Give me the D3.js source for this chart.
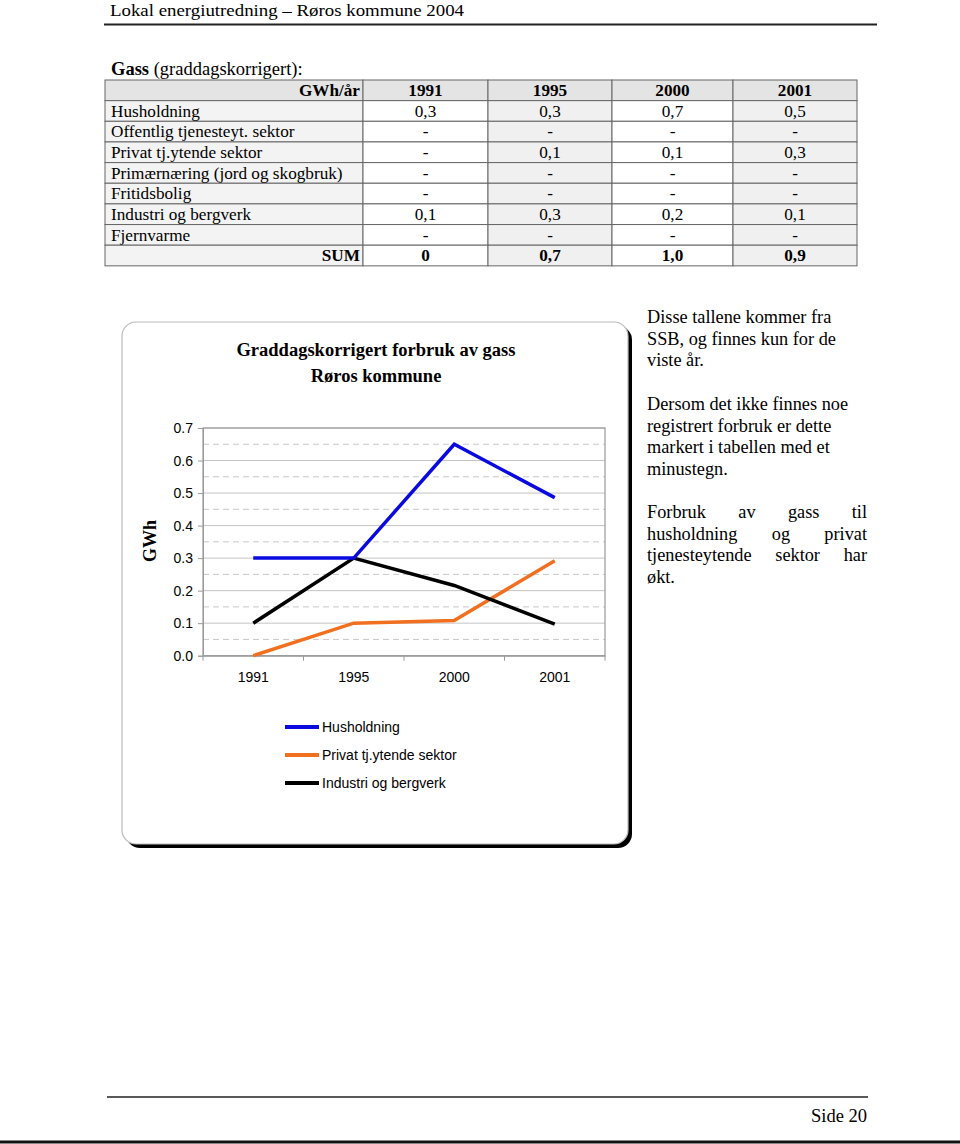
<!DOCTYPE html>
<html><head><meta charset="utf-8">
<script src="https://cdn.jsdelivr.net/npm/d3@7"></script>
<style>body{margin:0;background:#fff}svg{display:block}</style>
</head><body>
<script>
// ---------- data ----------
const years = ["1991", "1995", "2000", "2001"];
const tableRows = ["Husholdning", "Offentlig tjenesteyt. sektor", "Privat tj.ytende sektor", "Primærnæring (jord og skogbruk)", "Fritidsbolig", "Industri og bergverk", "Fjernvarme"];
const tableValues = [
  ["0,3", "0,3", "0,7", "0,5"],
  ["-", "-", "-", "-"],
  ["-", "0,1", "0,1", "0,3"],
  ["-", "-", "-", "-"],
  ["-", "-", "-", "-"],
  ["0,1", "0,3", "0,2", "0,1"],
  ["-", "-", "-", "-"]
];
const sumValues = ["0", "0,7", "1,0", "0,9"];
const seriesNames = ["Husholdning", "Privat tj.ytende sektor", "Industri og bergverk"];
const husholdning = [0.3, 0.3, 0.65, 0.486];
const privat = [0.0, 0.1, 0.108, 0.292];
const industri = [0.1, 0.3, 0.216, 0.097];
const yTicks = [0, 0.1, 0.2, 0.3, 0.4, 0.5, 0.6, 0.7];
const seriesColors = ["#0a0ae0", "#f07020", "#000000"];

const serif = "'Liberation Serif', 'Times New Roman', serif";
const sans = "'Liberation Sans', Arial, sans-serif";

const svg = d3.select("body").append("svg").attr("width", 960).attr("height", 1144);

// ---------- page header ----------
svg.append("text").attr("x", 110).attr("y", 16).attr("font-family", serif).attr("font-size", 17.5)
  .attr("textLength", 354).attr("lengthAdjust", "spacingAndGlyphs")
  .text("Lokal energiutredning – Røros kommune 2004");
svg.append("line").attr("x1", 104).attr("x2", 877).attr("y1", 24.5).attr("y2", 24.5).attr("stroke", "#222").attr("stroke-width", 2);

// ---------- table ----------
const tt = svg.append("text").attr("x", 111).attr("y", 75).attr("font-family", serif).attr("font-size", 18.5);
tt.append("tspan").attr("font-weight", "bold").text("Gass");
tt.append("tspan").text(" (graddagskorrigert):");

const colEdges = [105, 363, 488, 612, 733, 857];
const rowTop = 80, rowH = 20.65;
const allRows = [{label: "GWh/år", vals: years, header: true}]
  .concat(tableRows.map((r, i) => ({label: r, vals: tableValues[i]})))
  .concat([{label: "SUM", vals: sumValues, sum: true}]);
const colBg = ["#f3f3f3", "#ffffff", "#f0f0f0", "#ffffff", "#f0f0f0"];
const tg = svg.append("g");
allRows.forEach((row, ri) => {
  const y = rowTop + ri * rowH;
  for (let c = 0; c < 5; c++) {
    tg.append("rect").attr("x", colEdges[c]).attr("y", y).attr("width", colEdges[c + 1] - colEdges[c]).attr("height", rowH)
      .attr("fill", row.header ? "#e4e4e4" : colBg[c]).attr("stroke", "#666").attr("stroke-width", 1);
  }
  const bold = row.header || row.sum;
  tg.append("text").attr("x", (row.header || row.sum) ? colEdges[1] - 3 : colEdges[0] + 6).attr("y", y + 16)
    .attr("text-anchor", (row.header || row.sum) ? "end" : "start")
    .attr("font-family", serif).attr("font-size", 17.2).attr("font-weight", bold ? "bold" : "normal").text(row.label);
  row.vals.forEach((v, vi) => {
    tg.append("text").attr("x", (colEdges[vi + 1] + colEdges[vi + 2]) / 2).attr("y", y + 16).attr("text-anchor", "middle")
      .attr("font-family", serif).attr("font-size", 17.2).attr("font-weight", bold ? "bold" : "normal").text(v);
  });
});

// ---------- chart frame ----------
const fx = 122, fy = 322, fw = 506, fh = 522, rr = 14;
svg.append("rect").attr("x", fx + 4).attr("y", fy + 4).attr("width", fw).attr("height", fh).attr("rx", rr).attr("fill", "#000");
svg.append("rect").attr("x", fx).attr("y", fy).attr("width", fw).attr("height", fh).attr("rx", rr).attr("fill", "#fff").attr("stroke", "#bbb").attr("stroke-width", 1.2);

svg.append("text").attr("x", 376).attr("y", 356).attr("text-anchor", "middle").attr("font-family", serif).attr("font-size", 18.5).attr("font-weight", "bold").text("Graddagskorrigert forbruk av gass");
svg.append("text").attr("x", 376).attr("y", 382).attr("text-anchor", "middle").attr("font-family", serif).attr("font-size", 18.5).attr("font-weight", "bold").text("Røros kommune");

// ---------- plot ----------
const px0 = 203, px1 = 605, py0 = 428, py1 = 655.7;
const x = d3.scaleBand().domain(years).range([px0, px1]);
const y = d3.scaleLinear().domain([0, 0.7]).range([py1, py0]);

const grid = svg.append("g");
d3.range(0.05, 0.7, 0.1).forEach(v => {
  grid.append("line").attr("x1", px0).attr("x2", px1).attr("y1", y(v)).attr("y2", y(v)).attr("stroke", "#c8c8c8").attr("stroke-dasharray", "6,4").attr("stroke-width", 1);
});
yTicks.forEach(v => {
  grid.append("line").attr("x1", px0).attr("x2", px1).attr("y1", y(v)).attr("y2", y(v)).attr("stroke", "#c4c4c4").attr("stroke-width", 1);
});
svg.append("rect").attr("x", px0).attr("y", py0).attr("width", px1 - px0).attr("height", py1 - py0).attr("fill", "none").attr("stroke", "#9a9a9a").attr("stroke-width", 1.2);

const yAxis = svg.append("g").attr("transform", `translate(${px0},0)`)
  .call(d3.axisLeft(y).tickValues(yTicks).tickFormat(d3.format(".1f")).tickSize(5).tickPadding(5));
yAxis.select(".domain").attr("stroke", "#9a9a9a");
yAxis.selectAll(".tick line").attr("stroke", "#9a9a9a");
yAxis.selectAll("text").attr("font-family", sans).attr("font-size", 14).attr("fill", "#000");

const xAxis = svg.append("g").attr("transform", `translate(0,${py1})`)
  .call(d3.axisBottom(x).tickSize(0).tickPadding(16));
xAxis.select(".domain").attr("stroke", "#9a9a9a");
xAxis.selectAll("text").attr("font-family", sans).attr("font-size", 14).attr("fill", "#000");
// boundary tick marks
svg.append("g").selectAll("line").data(d3.range(years.length + 1)).join("line")
  .attr("x1", i => px0 + i * x.step()).attr("x2", i => px0 + i * x.step())
  .attr("y1", py1).attr("y2", py1 + 5).attr("stroke", "#9a9a9a");

svg.append("text").attr("transform", "translate(156,541) rotate(-90)").attr("text-anchor", "middle")
  .attr("font-family", serif).attr("font-size", 18).attr("font-weight", "bold").text("GWh");

const line = d3.line().x((d, i) => x(years[i]) + x.bandwidth() / 2).y(d => y(d));
const allSeries = [husholdning, privat, industri];
[1, 2, 0].forEach(si => {
  svg.append("path").attr("d", line(allSeries[si])).attr("fill", "none").attr("stroke", seriesColors[si]).attr("stroke-width", 3.5).attr("stroke-linejoin", "miter");
});

// legend
seriesNames.forEach((n, i) => {
  const ly = 727 + i * 28;
  svg.append("line").attr("x1", 285).attr("x2", 319).attr("y1", ly).attr("y2", ly).attr("stroke", seriesColors[i]).attr("stroke-width", 4);
  svg.append("text").attr("x", 322).attr("y", ly + 5).attr("font-family", sans).attr("font-size", 14).text(n);
});

// ---------- side text ----------
const paraX = 647, paraW = 220, lh = 21.7, fs = 18.3;
const paragraphs = [
  {y: 323, lines: ["Disse tallene kommer fra", "SSB, og finnes kun for de", "viste år."], justify: false},
  {y: 410, lines: ["Dersom det ikke finnes noe", "registrert forbruk er dette", "markert i tabellen med et", "minustegn."], justify: false},
  {y: 518, lines: ["Forbruk av gass til", "husholdning og privat", "tjenesteytende sektor har", "økt."], justify: true}
];
paragraphs.forEach(p => {
  p.lines.forEach((l, li) => {
    const ty = p.y + li * lh;
    const last = li === p.lines.length - 1;
    if (p.justify && !last) {
      const words = l.split(" ");
      const widths = words.map(w => {
        const t = svg.append("text").attr("font-family", serif).attr("font-size", fs).text(w);
        const wd = t.node().getComputedTextLength(); t.remove(); return wd;
      });
      const gap = (paraW - d3.sum(widths)) / (words.length - 1);
      let cx = paraX;
      words.forEach((w, wi) => {
        svg.append("text").attr("x", cx).attr("y", ty).attr("font-family", serif).attr("font-size", fs).text(w);
        cx += widths[wi] + gap;
      });
    } else {
      svg.append("text").attr("x", paraX).attr("y", ty).attr("font-family", serif).attr("font-size", fs).text(l);
    }
  });
});

// ---------- footer ----------
svg.append("line").attr("x1", 107).attr("x2", 868).attr("y1", 1097).attr("y2", 1097).attr("stroke", "#222").attr("stroke-width", 1.3);
svg.append("text").attr("x", 867).attr("y", 1122).attr("text-anchor", "end").attr("font-family", serif).attr("font-size", 18.5).text("Side 20");
svg.append("line").attr("x1", 0).attr("x2", 960).attr("y1", 1142).attr("y2", 1142).attr("stroke", "#111").attr("stroke-width", 3);
</script>
</body></html>
